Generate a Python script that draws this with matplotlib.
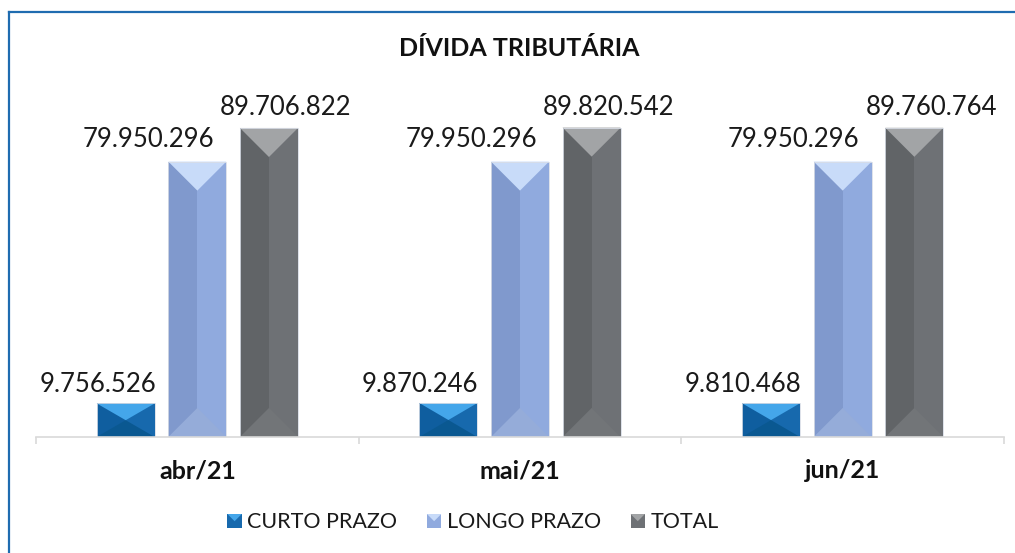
import matplotlib.pyplot as plt
from matplotlib.patches import Polygon, Rectangle
from matplotlib.legend_handler import HandlerBase
from matplotlib.lines import Line2D

# -------------------------------
# Data
# -------------------------------
months = ["abr/21", "mai/21", "jun/21"]
series_names = ["CURTO PRAZO", "LONGO PRAZO", "TOTAL"]
curto = [9756526, 9870246, 9810468]
longo = [79950296, 79950296, 79950296]
total = [89706822, 89820542, 89760764]
values = [curto, longo, total]

# -------------------------------
# Styling
# -------------------------------
# (left half, right half, top facet, bottom facet)
palettes = [
    ("#0f5e9f", "#1769ad", "#44a6ea", "#0a5891"),
    ("#8099cd", "#90aade", "#c8dbf9", "#95acd9"),
    ("#616467", "#6e7175", "#a2a4a6", "#727578"),
]
label_dx = [-28, -49, 17]     # label shift (px) from bar centre
label_gap = [11, 15, 13]      # gap (px) between bar top and text baseline
bar_w = 0.18
spacing = 0.222

plt.rcParams['font.family'] = ['Lato', 'DejaVu Sans']

fig = plt.figure(figsize=(10.15, 5.53), dpi=100)
ax = fig.add_axes([36 / 1015, 116 / 553, 968 / 1015, 344.5 / 553])
ax.set_xlim(-0.5, len(months) - 0.5)
ax.set_ylim(0, 100e6)


def bevel_bar(x_left, width, height, pal):
    # pixel -> data conversion so the facets are 45 degrees on screen
    p0 = ax.transData.transform((0, 0))
    p1 = ax.transData.transform((width, 1e6))
    w_px = p1[0] - p0[0]
    per_px = 1e6 / (p1[1] - p0[1])
    depth = min(w_px / 2 * per_px, height / 2)
    xm = x_left + width / 2
    xr = x_left + width
    ax.add_patch(Rectangle((x_left, 0), width / 2, height, color=pal[0], lw=0))
    ax.add_patch(Rectangle((xm, 0), width / 2, height, color=pal[1], lw=0))
    ax.add_patch(Polygon([(x_left, 0), (xr, 0), (xm, depth)], color=pal[3], lw=0))
    ax.add_patch(Polygon([(x_left, height), (xr, height), (xm, height - depth)],
                         color=pal[2], lw=0))
    ax.add_patch(Rectangle((x_left, 0), width, height, fill=False,
                           ec="#d8dde6", lw=0.6))


for i, (vals, pal) in enumerate(zip(values, palettes)):
    offset = (i - 1) * spacing
    for g, v in enumerate(vals):
        xc = g + offset
        bevel_bar(xc - bar_w / 2, bar_w, v, pal)
        txt = f"{v:,}".replace(",", ".")
        ax.annotate(txt, (xc, v), xytext=(label_dx[i], label_gap[i]),
                    textcoords="offset pixels", ha="center", va="baseline",
                    fontsize=18.5, color="#1a1a1a")

# axis styling
for s in ["top", "left", "right"]:
    ax.spines[s].set_visible(False)
ax.spines["bottom"].set_color("#d9d9d9")
ax.spines["bottom"].set_linewidth(1.2)
ax.set_yticks([])
ax.set_xticks(range(len(months)))
ax.set_xticklabels(months, fontsize=18, fontweight="bold", color="#111111")
ax.tick_params(axis="x", which="major", length=0, pad=16)
ax.set_xticks([k - 0.5 for k in range(len(months) + 1)], minor=True)
ax.tick_params(axis="x", which="minor", length=5, width=1.2, color="#d9d9d9")

fig.text(0.512, 1 - 48 / 553, "DÍVIDA TRIBUTÁRIA", ha="center", va="center",
         fontsize=18, fontweight="bold", color="#111111")


# legend with bevelled squares
class BevelHandler(HandlerBase):
    def create_artists(self, legend, orig, xd, yd, w, h, fs, trans):
        pal = orig.pal
        s = h * 1.0
        x0, y0 = xd + (w - s) / 2, yd + (h - s) / 2
        arts = [Rectangle((x0, y0), s, s, color=pal[1], lw=0),
                Polygon([(x0, y0 + s), (x0 + s, y0 + s), (x0 + s / 2, y0 + s / 2)],
                        color=pal[2], lw=0)]
        for a in arts:
            a.set_transform(trans)
        return arts


handles = []
for pal in palettes:
    r = Rectangle((0, 0), 1, 1)
    r.pal = pal
    handles.append(r)
ax.legend(handles, series_names, handler_map={Rectangle: BevelHandler()},
          loc="center", bbox_to_anchor=(473 / 1015, 1 - 522 / 553),
          bbox_transform=fig.transFigure, ncol=3, frameon=False, fontsize=15.5,
          handlelength=0.65, handleheight=0.65, handletextpad=0.25,
          columnspacing=1.4, labelcolor="#1a1a1a")

# outer chart border (left and top)
fig.add_artist(Line2D([8.5 / 1015, 8.5 / 1015], [0, 1 - 11.5 / 553],
                      transform=fig.transFigure, color="#1f6cb0", lw=1.6))
fig.add_artist(Line2D([8.5 / 1015, 1], [1 - 11.5 / 553, 1 - 11.5 / 553],
                      transform=fig.transFigure, color="#1f6cb0", lw=1.6))

fig.savefig("out.png", dpi=100)
